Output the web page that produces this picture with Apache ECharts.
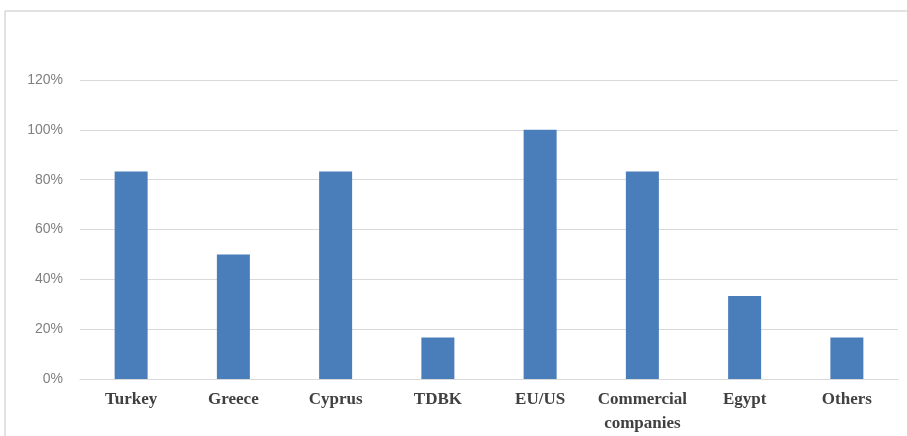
<!DOCTYPE html>
<html>
<head>
<meta charset="utf-8">
<script src="https://cdn.jsdelivr.net/npm/echarts@6/dist/echarts.min.js"></script>
<style>
html,body{margin:0;padding:0;background:#fff;}
#c{width:907px;height:436px;}
</style>
</head>
<body>
<div id="c"></div>
<script>
const categories = ['Turkey','Greece','Cyprus','TDBK','EU/US','Commercial\ncompanies','Egypt','Others'];
const values = [83.3, 50, 83.3, 16.7, 100, 83.3, 33.3, 16.7];
const yTicks = [0, 20, 40, 60, 80, 100, 120];

const chart = echarts.init(document.getElementById('c'), null, {renderer:'canvas'});
chart.setOption({
  backgroundColor:'#ffffff',
  animation:false,
  graphic:[
    {type:'line', shape:{x1:5,y1:11,x2:907,y2:11}, style:{stroke:'#d9d9d9',lineWidth:1.5}},
    {type:'line', shape:{x1:5,y1:11,x2:5,y2:436}, style:{stroke:'#d9d9d9',lineWidth:1.5}}
  ],
  grid:{left:80, right:9, top:80, bottom:57, containLabel:false, outerBoundsMode:'none'},
  xAxis:{
    type:'category',
    data:categories,
    axisLine:{lineStyle:{color:'#d9d9d9',width:1}},
    axisTick:{show:false},
    axisLabel:{
      interval:0,
      fontFamily:'Liberation Serif',
      fontWeight:'bold',
      fontSize:17,
      color:'#404040',
      margin:9,
      lineHeight:24
    }
  },
  yAxis:{
    type:'value',
    min:yTicks[0],
    max:yTicks[yTicks.length-1],
    interval:20,
    axisLine:{show:false},
    axisTick:{show:false},
    splitLine:{lineStyle:{color:'#d9d9d9',width:1}},
    axisLabel:{
      formatter:v=>v+'%',
      fontFamily:'Liberation Sans',
      fontSize:14,
      color:'#808080',
      margin:17
    }
  },
  series:[{
    type:'bar',
    data:values,
    barWidth:33,
    itemStyle:{color:'#4a7ebb'}
  }]
});
</script>
</body>
</html>
